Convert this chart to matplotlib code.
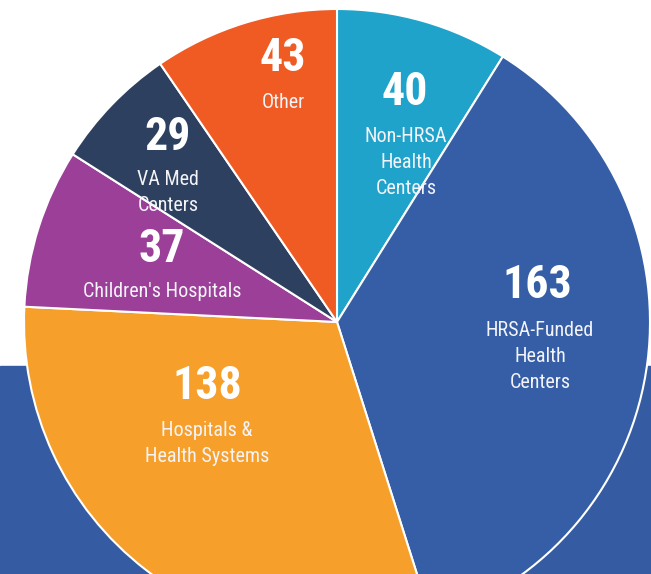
"""Pie chart of participating organisations by type."""

import matplotlib

matplotlib.use("Agg")
import matplotlib.pyplot as plt
from matplotlib import font_manager
from matplotlib.patches import Rectangle

# data, clockwise from 12 o'clock
counts = [40, 163, 138, 37, 29, 43]
labels = [
    "Non-HRSA\nHealth\nCenters",
    "HRSA-Funded\nHealth\nCenters",
    "Hospitals &\nHealth Systems",
    "Children's Hospitals",
    "VA Med\nCenters",
    "Other",
]
colors = ["#1fa3cb", "#355ea6", "#f6a02b", "#9b3f98", "#2e405f", "#f05a23"]

# label anchor positions in pixels (x, y from top) for number / text
num_pos = [(405, 92), (537, 285), (207, 386), (162, 249), (168, 137), (283, 58)]
txt_pos = [(406, 127), (540, 321), (207, 421), (162, 282), (168, 170), (283, 93)]

W, H = 651, 574
centre = (337, H - 322)
radius = 313
bg_blue = "#355ca3"


def pick_font():
    names = {f.name for f in font_manager.fontManager.ttflist}
    for cand in ["Roboto Condensed", "Liberation Sans Narrow",
                 "DejaVu Sans Condensed", "Open Sans Condensed", "Noto Sans"]:
        if cand in names:
            return cand
    return "DejaVu Sans"


font = pick_font()
condensed = "Narrow" in font or "Condensed" in font

fig = plt.figure(figsize=(W / 100, H / 100), dpi=100)
ax = fig.add_axes([0, 0, 1, 1])

ax.add_patch(Rectangle((0, 0), W, H - 366, color=bg_blue, zorder=0))

ax.pie(
    counts,
    colors=colors,
    startangle=90,
    counterclock=False,
    center=centre,
    radius=radius,
    wedgeprops=dict(edgecolor="white", linewidth=1.5),
    frame=True,
)
ax.set_xlim(0, W)
ax.set_ylim(0, H)
ax.set_aspect("equal")
ax.axis("off")

num_size = 33 if condensed else 28
txt_size = 14.5 if condensed else 12
for n, lab, (nx, ny), (tx, ty) in zip(counts, labels, num_pos, txt_pos):
    ax.text(nx, H - ny, str(n), ha="center", va="center", color="white",
            fontsize=num_size, fontweight="bold", family=font)
    ax.text(tx, H - ty, lab, ha="center", va="top", color="#f4f4f8",
            fontsize=txt_size, family=font, linespacing=1.48)

fig.savefig("out.png", dpi=100)
